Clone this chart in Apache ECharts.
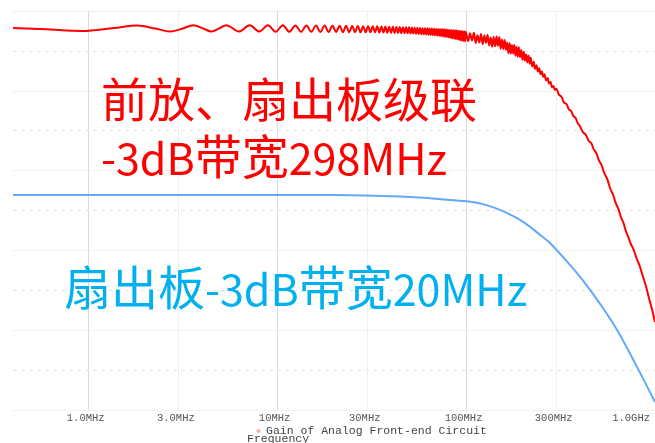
<!DOCTYPE html>
<html>
<head>
<meta charset="utf-8">
<script src="https://cdn.jsdelivr.net/npm/echarts@6/dist/echarts.min.js"></script>
<style>
  html, body { margin: 0; padding: 0; background: #ffffff; }
  #chart { width: 655px; height: 443px; }
</style>
</head>
<body>
<div id="chart"></div>
<script>
// Frequency axis ticks (MHz) and their printed labels
const tickFreqMHz = [1, 3, 10, 30, 100, 300, 1000];
const tickLabels = ['1.0MHz', '3.0MHz', '10MHz', '30MHz', '100MHz', '300MHz', '1.0GHz'];
const decadeFreqMHz = [1, 10, 100, 1000];
const halfDecadeFreqMHz = [3, 30, 300];

// Pre-amp + fan-out board in cascade: frequency (MHz) and gain (dB)
const redFreqMHz = [
  0.40, 0.60, 0.93, 1.37, 1.82, 2.27, 2.71, 3.16, 3.60, 4.05, 4.49, 4.94, 5.38, 5.82, 6.27,
  7.16, 8.05, 8.94, 9.83, 10.72, 11.61, 12.50, 13.39, 14.28, 15.17, 16.06, 16.95, 17.84, 18.73,
  19.62, 20.51, 21.40, 22.29, 23.18, 24.07, 24.96, 25.85, 26.74, 27.63, 28.52, 29.41,
  30.30, 31.19, 32.08, 32.97, 33.86, 34.75, 35.64, 36.53, 37.42, 38.31, 39.20, 40.09,
  40.98, 41.87, 42.76, 43.65, 44.54, 45.43, 46.32, 47.21, 48.10, 48.99, 49.88, 50.77,
  51.66, 52.55, 53.44, 54.33, 55.22, 56.11, 57.00, 57.89, 58.78, 59.67, 60.56, 61.45,
  62.34, 63.23, 64.12, 65.01, 65.90, 66.79, 67.68, 68.57, 69.46, 70.35, 71.24, 72.13,
  73.02, 73.91, 74.80, 75.69, 76.58, 77.47, 78.36, 79.25, 80.14, 81.03, 81.92, 82.81,
  83.70, 84.59, 85.48, 86.37, 87.26, 88.15, 89.04, 89.93, 90.82, 91.71, 92.60, 93.49,
  94.38, 95.27, 96.16, 97.05, 97.94, 98.83, 99.72,
  102.5, 105, 107.5, 110, 112.5, 115, 117.5, 120, 122.5, 125, 127.5, 130, 132.5, 135,
  137.5, 140, 142.5, 145, 147.5, 150, 152.5, 155, 157.5, 160, 162.5, 165, 167.5, 170,
  172.5, 175, 177.5, 180, 182.5, 185, 187.5, 190, 193, 196, 199, 202, 205, 208, 211,
  214, 217, 220, 224, 228, 232, 236, 240, 244, 248, 252, 256, 260, 265, 270, 275, 280,
  285, 290, 295, 300, 310, 320, 330, 340, 350, 360, 370, 380, 390, 400, 415, 430, 445,
  460, 475, 490, 505, 520, 540, 560, 580, 600, 620, 640, 660, 680, 700, 720, 745, 770,
  800, 830, 860, 895, 930, 965, 1000
];
const redGainDb = [
  1.15, 1.08, 1.00, 1.15, 1.27, 1.12, 0.97, 1.12, 1.29, 1.13, 0.97, 1.13, 1.29, 1.13, 0.97,
  1.28, 0.97, 1.28, 0.96, 1.28, 0.96, 1.27, 0.96, 1.27, 0.96, 1.27, 0.95, 1.27, 0.95,
  1.26, 0.95, 1.26, 0.94, 1.26, 0.94, 1.25, 0.94, 1.25, 0.93, 1.24, 0.93,
  1.24, 0.93, 1.23, 0.93, 1.23, 0.92, 1.22, 0.92, 1.22, 0.91, 1.21, 0.91,
  1.21, 0.90, 1.20, 0.90, 1.20, 0.89, 1.19, 0.89, 1.18, 0.88, 1.18, 0.87,
  1.17, 0.87, 1.16, 0.86, 1.16, 0.85, 1.15, 0.84, 1.14, 0.83, 1.13, 0.82,
  1.13, 0.81, 1.12, 0.80, 1.12, 0.79, 1.11, 0.78, 1.10, 0.77, 1.10, 0.76,
  1.09, 0.74, 1.08, 0.73, 1.08, 0.71, 1.07, 0.70, 1.06, 0.68, 1.05, 0.66,
  1.04, 0.64, 1.04, 0.62, 1.03, 0.60, 1.02, 0.58, 1.01, 0.56, 1.00, 0.54,
  0.99, 0.52, 0.98, 0.50, 0.97, 0.48, 0.96,
  0.49, 0.88, 0.52, 0.91, 0.40, 0.78, 0.42, 0.85, 0.34, 0.77, 0.41, 0.80, 0.28, 0.67,
  0.21, 0.70, 0.23, 0.72, 0.26, 0.70, 0.11, 0.57, 0.09, 0.55, 0.06, 0.42, -0.12, 0.40,
  -0.13, 0.30, -0.13, 0.29, -0.24, 0.19, -0.29, 0.18, -0.31, 0.05, -0.45, -0.04, -0.48, -0.18, -0.58,
  -0.23, -0.64, -0.34, -0.78, -0.55, -0.90, -0.72, -1.03, -0.87, -1.17, -1.03, -1.30, -1.17, -1.47, -1.36, -1.63, -1.56,
  -1.82, -1.76, -1.96, -1.90, -2.19, -2.30, -2.59, -2.66, -2.94, -3.01, -3.27, -3.36, -3.62, -3.76, -4.07, -4.20, -4.50,
  -4.63, -4.95, -5.14, -5.49, -5.70, -6.14, -6.45, -6.91, -7.21, -7.63, -7.92, -8.33, -8.61, -9.01, -9.30, -9.68, -9.95,
  -10.41, -10.78, -11.26, -11.78, -12.41, -12.96, -13.59
];

// Fan-out board alone: frequency (MHz) and gain (dB)
const blueFreqMHz = [0.40, 5, 20, 44.7, 82, 123, 186, 255, 278, 340, 413, 512, 630, 804, 1000];
const blueGainDb = [-7.22, -7.22, -7.22, -7.30, -7.47, -7.68, -8.38, -9.33, -9.63, -10.53, -11.48, -12.68, -13.99, -15.85, -17.60];

const zip = (xs, ys) => xs.map((x, i) => [x, ys[i]]);

function labelFor(v) {
  for (let i = 0; i < tickFreqMHz.length; i++) {
    if (Math.abs(Math.log10(v) - Math.log10(tickFreqMHz[i])) < 0.01) return tickLabels[i];
  }
  return '';
}

const monoFont = '"Liberation Mono", "DejaVu Sans Mono", monospace';
const cjkFont = '"Noto Sans CJK SC", "Noto Sans", sans-serif';

// Rich-text styles for the annotations: Han characters slightly larger than Latin
function annoRich(color) {
  return {
    c: { fontSize: 47, fontFamily: cjkFont, fill: color, verticalAlign: 'bottom' },
    l: { fontSize: 43, fontFamily: cjkFont, fill: color, verticalAlign: 'bottom' }
  };
}

const chart = echarts.init(document.getElementById('chart'), null, { renderer: 'canvas' });

chart.setOption({
  animation: false,
  backgroundColor: '#ffffff',
  grid: { left: 13, right: 0, top: 11, bottom: 33, containLabel: false },
  legend: {
    left: 251, top: 420,
    itemWidth: 5, itemHeight: 5,
    icon: 'diamond',
    selectedMode: false,
    data: [{ name: 'Gain of Analog Front-end Circuit', itemStyle: { color: '#f3b0b0' } }],
    textStyle: { fontFamily: monoFont, fontSize: 11.5, color: '#444' }
  },
  xAxis: [
    {
      type: 'log', logBase: 10, min: 0.4, max: 1000,
      axisLine: { show: false },
      axisTick: { show: false, customValues: decadeFreqMHz },
      axisLabel: {
        customValues: tickFreqMHz,
        formatter: labelFor,
        fontFamily: monoFont, fontSize: 10.5, color: '#555',
        margin: 3, showMaxLabel: true, alignMaxLabel: 'right',
        padding: [0, 5, 0, 0]
      },
      splitLine: { show: true, lineStyle: { color: '#dcdcdc', width: 1 } }
    },
    {
      type: 'log', logBase: 10, min: 0.4, max: 1000, position: 'bottom',
      axisLine: { show: false },
      axisTick: { show: false, customValues: halfDecadeFreqMHz },
      axisLabel: { show: false },
      splitLine: { show: true, lineStyle: { color: '#efefef', width: 1 } }
    }
  ],
  yAxis: {
    type: 'value', min: -18, max: 2, interval: 4,
    axisLine: { show: false }, axisTick: { show: false }, axisLabel: { show: false },
    splitLine: { show: true, lineStyle: { color: '#f1f1f1', width: 1 } },
    minorTick: { show: false, splitNumber: 2 },
    minorSplitLine: { show: true, lineStyle: { color: '#e3e3e3', width: 1, type: [4, 4] } }
  },
  series: [
    {
      name: 'Gain of Analog Front-end Circuit',
      type: 'line', xAxisIndex: 0,
      data: zip(redFreqMHz, redGainDb),
      smooth: 0.35, showSymbol: false,
      lineStyle: { color: '#ff0000', width: 2 },
      itemStyle: { color: '#ff0000' },
      z: 3
    },
    {
      name: 'Fan-out Board Gain',
      type: 'line', xAxisIndex: 0,
      data: zip(blueFreqMHz, blueGainDb),
      smooth: 0.4, showSymbol: false,
      lineStyle: { color: '#62a9f8', width: 2 },
      itemStyle: { color: '#62a9f8' },
      z: 2
    }
  ],
  graphic: [
    { type: 'text', left: 101, top: 76, z: 10,
      style: { text: '{c|前放、扇出板级联}', rich: annoRich('#ff0000') } },
    { type: 'text', left: 101, top: 133, z: 10,
      style: { text: '{l|-3dB}{c|带宽}{l|298MHz}', rich: annoRich('#ff0000') } },
    { type: 'text', left: 64, top: 264, z: 10,
      style: { text: '{c|扇出板}{l|-3dB}{c|带宽}{l|20MHz}', rich: annoRich('#00b0f0') } },
    { type: 'text', left: 247, top: 433, z: 10,
      style: { text: 'Frequency', fill: '#444', font: '11.5px ' + monoFont } }
  ]
});
</script>
</body>
</html>
